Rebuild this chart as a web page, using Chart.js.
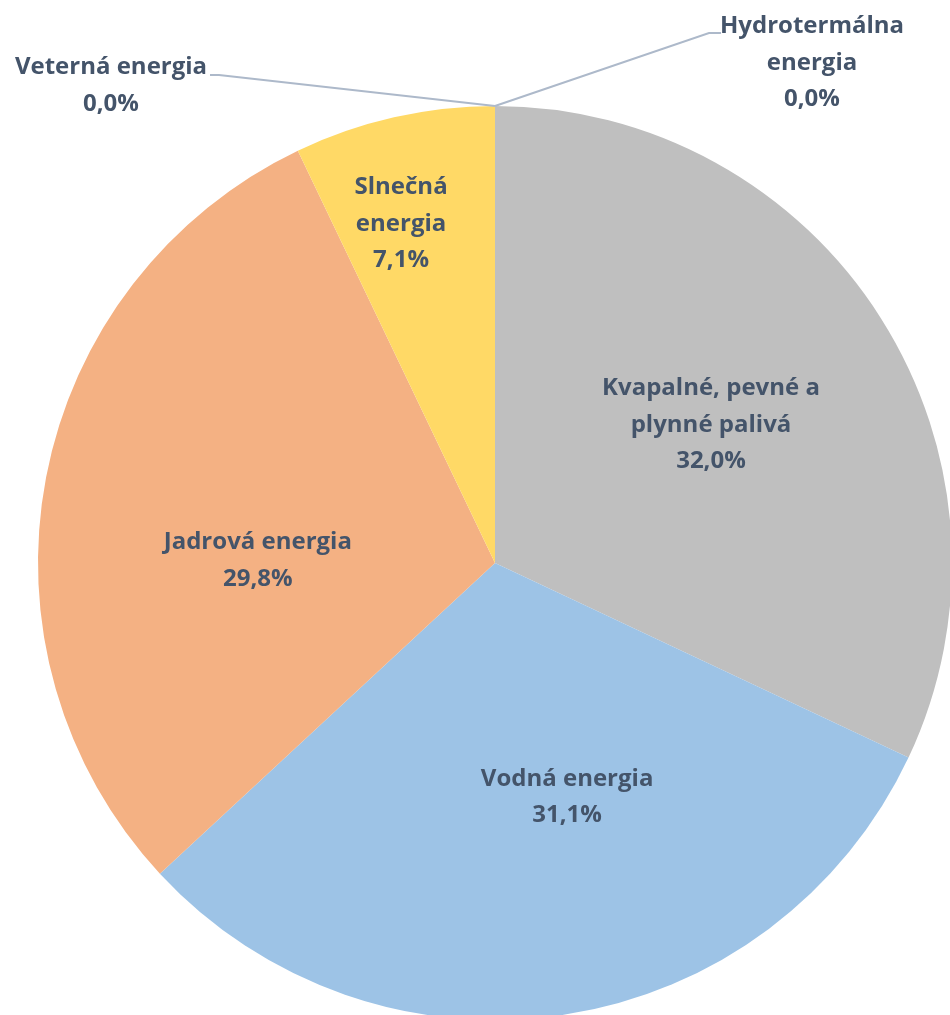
<!DOCTYPE html>
<html>
<head>
<meta charset="utf-8">
<script src="https://cdn.jsdelivr.net/npm/chart.js@4/dist/chart.umd.min.js"></script>
<style>
  html, body { margin: 0; padding: 0; background: #fff; overflow: hidden; }
  #chart { display: block; }
</style>
</head>
<body>
<canvas id="chart" width="950" height="1015"></canvas>
<script>
// data, clockwise from the top
const labels = [
  ["Hydrotermálna", "energia"],
  ["Kvapalné, pevné a", "plynné palivá"],
  ["Vodná energia"],
  ["Jadrová energia"],
  ["Slnečná", "energia"],
  ["Veterná energia"]
];
const shares = [0.0, 32.0, 31.1, 29.8, 7.1, 0.0];
const colors = ["#A5A5A5", "#BFBFBF", "#9DC3E6", "#F4B183", "#FFD966", "#5B9BD5"];

// label placement: inside = [radius fraction, angle nudge in degrees]
// outside = offsets from the slice's outer point (elbow, line end, text centre)
const labelPlace = [
  { out: { elbow: [214, -73], end: [226, -73], text: [317, -43] } },
  { frac: 0.561, nudge: -0.2 },
  { frac: 0.536, nudge: -8.3 },
  { frac: 0.519, nudge: -10.2 },
  { frac: 0.77, nudge: -2.7 },
  { out: { elbow: [-276, -31], end: [-285, -31], text: [-384, -20.5] } }
];

const FONT = "bold 24px 'Open Sans'";
const LINE_H = 36.5;
const TEXT_COLOR = "#44546A";

function fmt (v) {
  return v.toFixed(1).replace(".", ",") + "%";
}

function drawBlock (ctx, lines, cx, cy) {
  let top = cy - (lines.length - 1) * LINE_H / 2;
  lines.forEach((t, i) => ctx.fillText(t, cx, top + i * LINE_H));
}

const pieLabels = {
  id: "pieLabels",
  afterDatasetsDraw (chart) {
    let ctx = chart.ctx;
    let arcs = chart.getDatasetMeta(0).data;
    ctx.save();
    ctx.font = FONT;
    ctx.fillStyle = TEXT_COLOR;
    ctx.textAlign = "center";
    ctx.textBaseline = "middle";

    arcs.forEach((arc, i) => {
      let p = arc.getProps(["x", "y", "startAngle", "endAngle", "outerRadius"], true);
      let mid = (p.startAngle + p.endAngle) / 2;
      let place = labelPlace[i];
      let lines = labels[i].concat([fmt(shares[i])]);

      if (place.out) {
        let ox = p.x + Math.cos(mid) * p.outerRadius;
        let oy = p.y + Math.sin(mid) * p.outerRadius;
        ctx.beginPath();
        ctx.strokeStyle = "#ADB9CA";
        ctx.lineWidth = 2;
        ctx.moveTo(ox, oy);
        ctx.lineTo(ox + place.out.elbow[0], oy + place.out.elbow[1]);
        ctx.lineTo(ox + place.out.end[0], oy + place.out.end[1]);
        ctx.stroke();
        drawBlock(ctx, lines, ox + place.out.text[0], oy + place.out.text[1]);
      } else {
        let a = mid + place.nudge * Math.PI / 180;
        let r = p.outerRadius * place.frac;
        drawBlock(ctx, lines, p.x + Math.cos(a) * r, p.y + Math.sin(a) * r);
      }
    });
    ctx.restore();
  }
};

new Chart(document.getElementById("chart"), {
  type: "pie",
  data: {
    labels: labels.map(l => l.join(" ")),
    datasets: [{
      data: shares,
      backgroundColor: colors,
      borderWidth: 0,
      radius: 457
    }]
  },
  options: {
    responsive: false,
    animation: false,
    devicePixelRatio: 1,
    layout: { padding: { left: 40, right: 0, top: 111, bottom: 0 } },
    plugins: {
      legend: { display: false },
      tooltip: { enabled: false }
    }
  },
  plugins: [pieLabels]
});
</script>
</body>
</html>
